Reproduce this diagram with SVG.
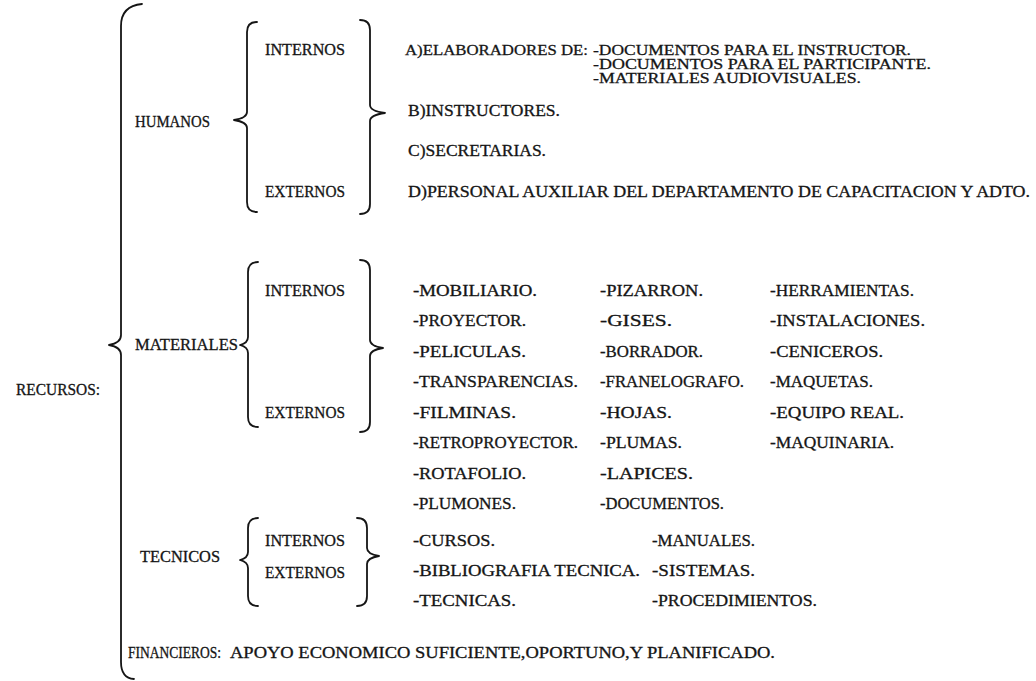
<svg xmlns="http://www.w3.org/2000/svg" width="1036" height="681" viewBox="0 0 1036 681">
  <style>
    .t { font-family: "Liberation Serif", "Times New Roman", serif; font-size: 16px; fill: #151515; stroke: #151515; stroke-width: 0.3; }
    .s { font-size: 15px; }
    .b { fill: none; stroke: #151515; stroke-width: 1.8; stroke-linecap: round; stroke-linejoin: round; }
  </style>
  <rect width="1036" height="681" fill="#ffffff"/>

  <!-- braces -->
  <g id="connectors">
    <path class="b" d="M142,4 Q121,6 121,26 L121,335 Q121,343 109,345 Q121,347 121,355 L121,662 Q121,678 134,679"/>
    <!-- HUMANOS -->
    <path class="b" d="M257,22 Q247,22 247,32 L247,112 Q247,118 234,120 Q247,122 247,128 L247,202 Q247,212 257,212"/>
    <path class="b" d="M360,20 Q370,20 370,30 L370,105 Q370,111 385,113 Q370,115 370,121 L370,204 Q370,214 360,214"/>
    <!-- MATERIALES -->
    <path class="b" d="M258,262 Q248,262 248,272 L248,337 Q248,343 240,345 Q248,347 248,353 L248,417 Q248,427 258,427"/>
    <path class="b" d="M360,260 Q370,260 370,270 L370,340 Q370,346 383,348 Q370,350 370,356 L370,422 Q370,432 360,432"/>
    <!-- TECNICOS -->
    <path class="b" d="M258,518 Q248,518 248,528 L248,552 Q248,558 240,560 Q248,562 248,568 L248,596 Q248,606 258,606"/>
    <path class="b" d="M357,518 Q367,518 367,528 L367,548 Q367,554 379,556 Q367,558 367,564 L367,596 Q367,606 357,606"/>
  </g>

  <g id="recursos">
    <text class="t" x="16" y="395" textLength="84" lengthAdjust="spacingAndGlyphs">RECURSOS:</text>
  </g>

  <g id="humanos">
    <text class="t" x="135" y="127" textLength="75" lengthAdjust="spacingAndGlyphs">HUMANOS</text>
    <text class="t" x="265" y="55" textLength="80" lengthAdjust="spacingAndGlyphs">INTERNOS</text>
    <text class="t" x="265" y="197" textLength="80" lengthAdjust="spacingAndGlyphs">EXTERNOS</text>
  </g>

  <g id="humanos-items">
    <text class="t s" x="405" y="55" textLength="183" lengthAdjust="spacingAndGlyphs">A)ELABORADORES DE:</text>
    <text class="t s" x="593" y="55" textLength="318" lengthAdjust="spacingAndGlyphs">-DOCUMENTOS PARA EL INSTRUCTOR.</text>
    <text class="t s" x="593" y="69" textLength="338" lengthAdjust="spacingAndGlyphs">-DOCUMENTOS PARA EL PARTICIPANTE.</text>
    <text class="t s" x="593" y="83" textLength="268" lengthAdjust="spacingAndGlyphs">-MATERIALES AUDIOVISUALES.</text>
    <text class="t" x="408" y="116" textLength="152" lengthAdjust="spacingAndGlyphs">B)INSTRUCTORES.</text>
    <text class="t" x="408" y="156" textLength="138" lengthAdjust="spacingAndGlyphs">C)SECRETARIAS.</text>
    <text class="t" x="408" y="197" textLength="622" lengthAdjust="spacingAndGlyphs">D)PERSONAL AUXILIAR DEL DEPARTAMENTO DE CAPACITACION Y ADTO.</text>
  </g>

  <g id="materiales">
    <text class="t" x="135" y="350" textLength="103" lengthAdjust="spacingAndGlyphs">MATERIALES</text>
    <text class="t" x="265" y="296" textLength="80" lengthAdjust="spacingAndGlyphs">INTERNOS</text>
    <text class="t" x="265" y="418" textLength="80" lengthAdjust="spacingAndGlyphs">EXTERNOS</text>
  </g>

  <g id="materiales-items">
    <text class="t" x="413" y="296" textLength="124" lengthAdjust="spacingAndGlyphs">-MOBILIARIO.</text>
    <text class="t" x="413" y="326" textLength="113" lengthAdjust="spacingAndGlyphs">-PROYECTOR.</text>
    <text class="t" x="413" y="357" textLength="113" lengthAdjust="spacingAndGlyphs">-PELICULAS.</text>
    <text class="t" x="413" y="387" textLength="165" lengthAdjust="spacingAndGlyphs">-TRANSPARENCIAS.</text>
    <text class="t" x="413" y="418" textLength="103" lengthAdjust="spacingAndGlyphs">-FILMINAS.</text>
    <text class="t" x="413" y="448" textLength="165" lengthAdjust="spacingAndGlyphs">-RETROPROYECTOR.</text>
    <text class="t" x="413" y="479" textLength="113" lengthAdjust="spacingAndGlyphs">-ROTAFOLIO.</text>
    <text class="t" x="413" y="509" textLength="103" lengthAdjust="spacingAndGlyphs">-PLUMONES.</text>

    <text class="t" x="600" y="296" textLength="103" lengthAdjust="spacingAndGlyphs">-PIZARRON.</text>
    <text class="t" x="600" y="326" textLength="72" lengthAdjust="spacingAndGlyphs">-GISES.</text>
    <text class="t" x="600" y="357" textLength="103" lengthAdjust="spacingAndGlyphs">-BORRADOR.</text>
    <text class="t" x="600" y="387" textLength="144" lengthAdjust="spacingAndGlyphs">-FRANELOGRAFO.</text>
    <text class="t" x="600" y="418" textLength="72" lengthAdjust="spacingAndGlyphs">-HOJAS.</text>
    <text class="t" x="600" y="448" textLength="82" lengthAdjust="spacingAndGlyphs">-PLUMAS.</text>
    <text class="t" x="600" y="479" textLength="93" lengthAdjust="spacingAndGlyphs">-LAPICES.</text>
    <text class="t" x="600" y="509" textLength="124" lengthAdjust="spacingAndGlyphs">-DOCUMENTOS.</text>

    <text class="t" x="770" y="296" textLength="144" lengthAdjust="spacingAndGlyphs">-HERRAMIENTAS.</text>
    <text class="t" x="770" y="326" textLength="155" lengthAdjust="spacingAndGlyphs">-INSTALACIONES.</text>
    <text class="t" x="770" y="357" textLength="113" lengthAdjust="spacingAndGlyphs">-CENICEROS.</text>
    <text class="t" x="770" y="387" textLength="103" lengthAdjust="spacingAndGlyphs">-MAQUETAS.</text>
    <text class="t" x="770" y="418" textLength="134" lengthAdjust="spacingAndGlyphs">-EQUIPO REAL.</text>
    <text class="t" x="770" y="448" textLength="124" lengthAdjust="spacingAndGlyphs">-MAQUINARIA.</text>
  </g>

  <g id="tecnicos">
    <text class="t" x="140" y="562" textLength="80" lengthAdjust="spacingAndGlyphs">TECNICOS</text>
    <text class="t" x="265" y="546" textLength="80" lengthAdjust="spacingAndGlyphs">INTERNOS</text>
    <text class="t" x="265" y="578" textLength="80" lengthAdjust="spacingAndGlyphs">EXTERNOS</text>
  </g>

  <g id="tecnicos-items">
    <text class="t" x="413" y="546" textLength="82" lengthAdjust="spacingAndGlyphs">-CURSOS.</text>
    <text class="t" x="413" y="576" textLength="227" lengthAdjust="spacingAndGlyphs">-BIBLIOGRAFIA TECNICA.</text>
    <text class="t" x="413" y="606" textLength="103" lengthAdjust="spacingAndGlyphs">-TECNICAS.</text>
    <text class="t" x="652" y="546" textLength="103" lengthAdjust="spacingAndGlyphs">-MANUALES.</text>
    <text class="t" x="652" y="576" textLength="103" lengthAdjust="spacingAndGlyphs">-SISTEMAS.</text>
    <text class="t" x="652" y="606" textLength="165" lengthAdjust="spacingAndGlyphs">-PROCEDIMIENTOS.</text>
  </g>

  <g id="financieros">
    <text class="t" x="128" y="658" textLength="93" lengthAdjust="spacingAndGlyphs">FINANCIEROS:</text>
    <text class="t" x="230" y="658" textLength="545" lengthAdjust="spacingAndGlyphs">APOYO ECONOMICO SUFICIENTE,OPORTUNO,Y PLANIFICADO.</text>
  </g>
</svg>
